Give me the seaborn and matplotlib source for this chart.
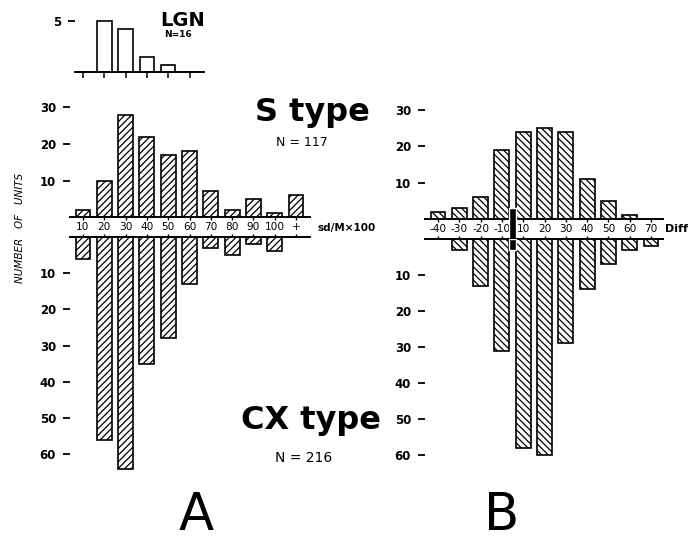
import matplotlib
matplotlib.use('Agg')
import matplotlib.pyplot as plt
import seaborn as sns

# ── Data ─────────────────────────────────────────────────────────────────────
sd_labels   = ['10', '20', '30', '40', '50', '60', '70', '80', '90', '100', '+']
s_sd        = [2, 10, 28, 22, 17, 18, 7, 2, 5, 1, 6]      # S type, N=117
cx_sd       = [6, 56, 64, 35, 28, 13, 3, 5, 2, 4, 0]      # CX type, N=216

lgn_labels  = ['10', '20', '30', '40', '50', '60']
lgn_sd      = [0, 5, 4.2, 1.4, 0.7, 0]                    # LGN, N=16

diff_labels = ['-40', '-30', '-20', '-10', '10', '20', '30', '40', '50', '60', '70']
s_diff      = [2, 3, 6, 19, 24, 25, 24, 11, 5, 1, 0]
cx_diff     = [0, 3, 13, 31, 58, 60, 29, 14, 7, 3, 2]
zero_mark   = [3, 3]   # black bar at Diff = 0 (above / below the strip)

# ─────────────────────────────────────────────────────────────────────────────
sns.set_style('white')
plt.rcParams['font.family'] = ['DejaVu Sans']
plt.rcParams.update({
    'hatch.linewidth': 0.9,
    'text.color': 'black',
    'xtick.color': 'black',
    'ytick.color': 'black',
    'axes.edgecolor': 'black',
})

W, H = 688, 543
STEP = 21.3          # px between bar centres
fig = plt.figure(figsize=(W / 100, H / 100), dpi=100)


def px_axes(l, t, r, b):
    return fig.add_axes([l / W, 1 - b / H, (r - l) / W, (b - t) / H])


def style_y(ax, ticks):
    ax.set_yticks(ticks)
    ax.tick_params(axis='y', left=True, length=5, width=1.3, pad=5,
                   labelsize=8.5)
    for t in ax.get_yticklabels():
        t.set_fontweight('bold')
    ax.set_xlabel('')
    ax.set_ylabel('')


def draw_panel(labels, up, down, x_left, x_right, x0, zero_up, zero_dn,
               sc_up, sc_dn, hatch):
    lo, hi = (x_left - x0) / STEP, (x_right - x0) / STEP
    ax_u = px_axes(x_left, zero_up - 32 * sc_up, x_right, zero_up)
    ax_d = px_axes(x_left, zero_dn, x_right, zero_dn + 66 * sc_dn)

    for ax, vals in ((ax_u, up), (ax_d, down)):
        sns.barplot(x=labels, y=vals, order=labels, ax=ax, width=0.7,
                    color='white', saturation=1, edgecolor='black',
                    linewidth=1.2, hatch=hatch, errorbar=None)
        ax.set_xlim(lo, hi)
        for s in ax.spines.values():
            s.set_visible(False)

    ax_u.set_ylim(0, 32)
    ax_d.set_ylim(66, 0)
    style_y(ax_u, [10, 20, 30])
    style_y(ax_d, [10, 20, 30, 40, 50, 60])

    # strip with the bin labels
    ax_u.spines['bottom'].set_visible(True)
    ax_u.spines['bottom'].set_linewidth(1.4)
    ax_u.tick_params(axis='x', bottom=True, length=2, width=1, pad=1.8,
                     labelsize=7.6)
    ax_d.spines['top'].set_visible(True)
    ax_d.spines['top'].set_linewidth(1.4)
    ax_d.tick_params(axis='x', top=True, bottom=False, labelbottom=False,
                     length=2, width=1)
    return ax_u, ax_d


# ── Panel A ──────────────────────────────────────────────────────────────────
draw_panel(sd_labels, s_sd, cx_sd, 70, 310, 83, 217, 237, 3.65, 3.62,
           '/////')
fig.text(317 / W, 1 - 228 / H, 'sd/M\u00d7100', fontsize=7.5,
         fontweight='bold', va='center', ha='left')

# ── Panel B ──────────────────────────────────────────────────────────────────
bu, bd = draw_panel(diff_labels, s_diff, cx_diff, 425, 663, 438, 219, 239,
                    3.64, 3.6, '\\\\\\\\\\')
gap = 20 / 3.64
bu.bar(3.5, zero_mark[0] + gap, bottom=-gap, width=0.3, color='black',
       clip_on=False, zorder=5)
bd.bar(3.5, zero_mark[1], width=0.3, color='black', zorder=5)
fig.text(665 / W, 1 - 229 / H, 'Diff', fontsize=8, fontweight='bold',
         va='center', ha='left')

# ── LGN inset ────────────────────────────────────────────────────────────────
ax_l = px_axes(75, 71.7 - 6 * 10.2, 204, 71.7)
sns.barplot(x=lgn_labels, y=lgn_sd, order=lgn_labels, ax=ax_l, width=0.68,
            color='white', saturation=1, edgecolor='black', linewidth=1.2,
            errorbar=None)
ax_l.set_xlim((75 - 83) / STEP, (204 - 83) / STEP)
ax_l.set_ylim(0, 6)
for s in ax_l.spines.values():
    s.set_visible(False)
ax_l.spines['bottom'].set_visible(True)
ax_l.spines['bottom'].set_linewidth(1.4)
ax_l.tick_params(axis='x', bottom=True, length=4, width=1.1, labelbottom=False)
style_y(ax_l, [5])
fig.text(183 / W, 1 - 20 / H, 'LGN', fontsize=14, fontweight='bold',
         ha='center', va='center')
fig.text(178 / W, 1 - 34 / H, 'N=16', fontsize=6.5, fontweight='bold',
         ha='center', va='center')

# ── Titles and labels ────────────────────────────────────────────────────────
fig.text(312 / W, 1 - 112 / H, 'S type', fontsize=23, fontweight='heavy',
         ha='center', va='center')
fig.text(302 / W, 1 - 142 / H, 'N = 117', fontsize=9, ha='center',
         va='center')
fig.text(311 / W, 1 - 420 / H, 'CX type', fontsize=23, fontweight='heavy',
         ha='center', va='center')
fig.text(304 / W, 1 - 458 / H, 'N = 216', fontsize=10, ha='center',
         va='center')
fig.text(20 / W, 1 - 228 / H, 'NUMBER   OF   UNITS', fontsize=7.5,
         style='italic', rotation=90, ha='center', va='center')
fig.text(196 / W, 1 - 541 / H, 'A', fontsize=37, ha='center', va='bottom')
fig.text(502 / W, 1 - 541 / H, 'B', fontsize=37, ha='center', va='bottom')

plt.savefig('out.png', dpi=100)
plt.close()
